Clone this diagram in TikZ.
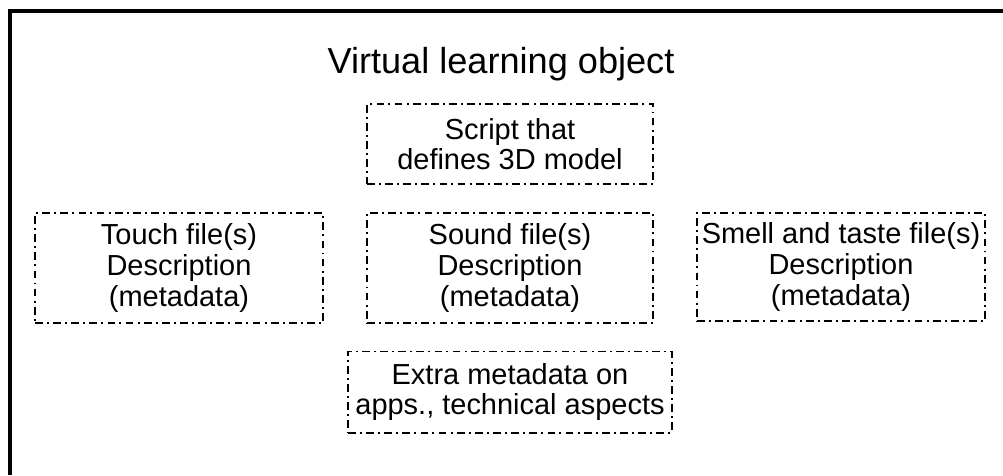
\documentclass[tikz,border=0pt]{standalone}
\usepackage{fontspec}
\setmainfont{Liberation Sans}

\begin{document}
\begin{tikzpicture}[x=0.025cm,y=-0.025cm,
  part/.style={draw,line width=1.4pt,dash pattern=on 5.5pt off 3pt on 1.4pt off 3pt,
    align=center,inner sep=0pt,font=\fontsize{20.6}{21.8}\selectfont},
  heading/.style={font=\fontsize{25.7}{28}\selectfont}]
\pgfmathsetmacro{\boxw}{7.15}
\pgfmathsetmacro{\boxh}{2.75}
\useasboundingbox (0,0) rectangle (1003,475);
% frame
\draw[line width=2.2pt] (10,475) -- (10,11) -- (1003,11);
\node[heading] (title) at (501,64) {Virtual learning object};
% parts of the object
\node[part,minimum width=\boxw cm,minimum height=2cm] (script) at (510,144) {Script that\\defines 3D model};
\node[part,minimum width=7.2cm,minimum height=\boxh cm] (touch) at (179,268) {Touch file(s)\\Description\\(metadata)};
\node[part,minimum width=\boxw cm,minimum height=\boxh cm] (sound) at (510,268) {Sound file(s)\\Description\\(metadata)};
\node[part,minimum width=7.2cm,minimum height=2.7cm] (smell) at (841,267) {Smell and taste file(s)\\Description\\(metadata)};
\node[part,minimum width=8.1cm,minimum height=2.025cm] (extra) at (510,392) {Extra metadata on\\apps., technical aspects};
\end{tikzpicture}
\end{document}
